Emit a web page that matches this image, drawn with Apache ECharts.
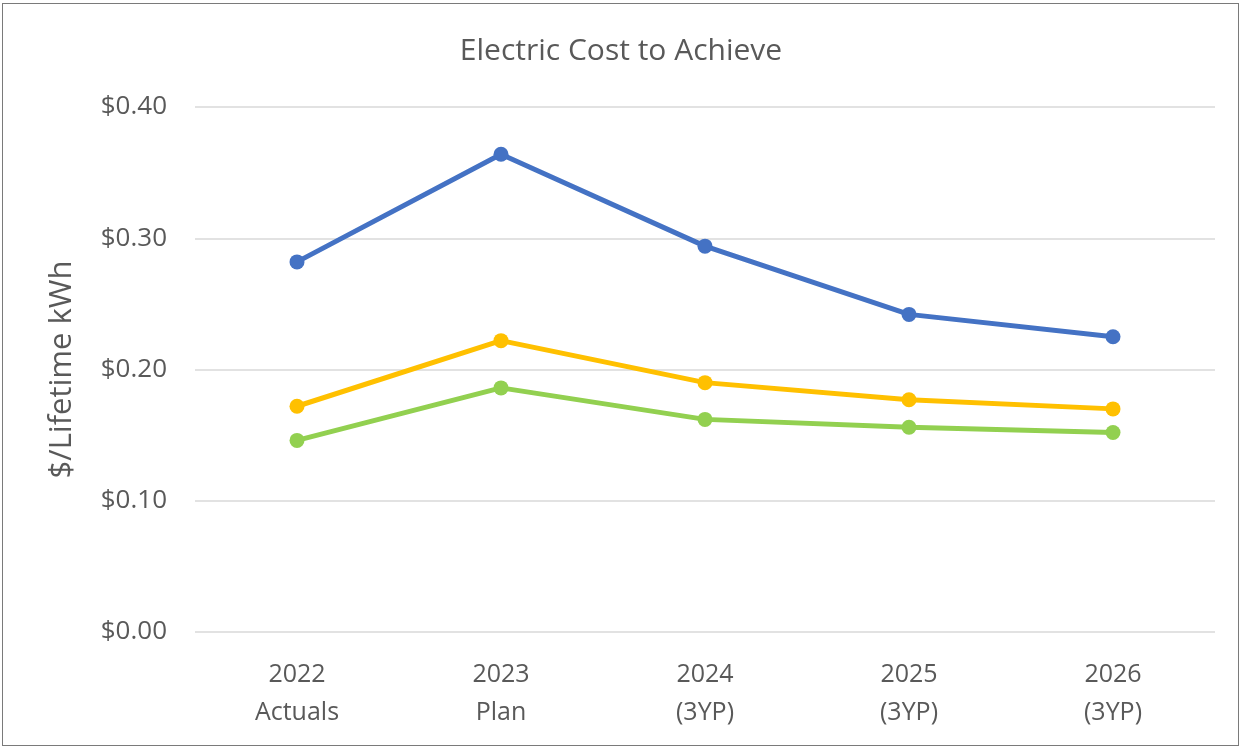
<!DOCTYPE html>
<html><head><meta charset="utf-8">
<script src="https://cdn.jsdelivr.net/npm/echarts@6/dist/echarts.min.js"></script>
<style>html,body{margin:0;padding:0;background:#fff}#c{width:1242px;height:750px}
#frame{position:absolute;left:2px;top:3px;width:1237px;height:743px;border:1.5px solid #7a7a7a;pointer-events:none;box-sizing:border-box}</style>
</head><body><div id="c"></div><div id="frame"></div>
<script>
const categories = ['2022\nActuals', '2023\nPlan', '2024\n(3YP)', '2025\n(3YP)', '2026\n(3YP)'];
const blueSeries = [0.282, 0.364, 0.294, 0.242, 0.225];
const yellowSeries = [0.172, 0.222, 0.190, 0.177, 0.170];
const greenSeries = [0.146, 0.186, 0.162, 0.156, 0.152];
const yTicks = [0, 0.1, 0.2, 0.3, 0.4];

const font = '"Open Sans", "Noto Sans", sans-serif';
const chart = echarts.init(document.getElementById('c'));
function mk(name, data, color) {
  return { name, type: 'line', data, symbol: 'circle', symbolSize: 15,
    lineStyle: { color, width: 5 }, itemStyle: { color }, z: 3 };
}
chart.setOption({
  animation: false,
  title: { text: 'Electric Cost to Achieve', left: 'center', top: 31,
    textStyle: { fontFamily: font, fontSize: 30, fontWeight: 'normal', color: '#595959' } },
  grid: { left: 195, right: 27, top: 107, bottom: 118 },
  xAxis: { type: 'category', data: categories, boundaryGap: true,
    axisLine: { show: false }, axisTick: { show: false },
    axisLabel: { fontFamily: font, fontSize: 25, color: '#595959', margin: 24, lineHeight: 38 } },
  yAxis: { type: 'value', min: yTicks[0], max: yTicks[yTicks.length - 1], interval: 0.1,
    name: '$/Lifetime kWh', nameLocation: 'middle', nameGap: 117,
    nameTextStyle: { fontFamily: font, fontSize: 31, color: '#595959' },
    axisLine: { show: false }, axisTick: { show: false },
    splitLine: { lineStyle: { color: '#d9d9d9', width: 1.5 } },
    axisLabel: { fontFamily: font, fontSize: 26, color: '#595959', margin: 28,
      formatter: v => '$' + v.toFixed(2) } },
  series: [mk('A', blueSeries, '#4472c4'), mk('B', yellowSeries, '#ffc000'), mk('C', greenSeries, '#92d050')]
});
</script></body></html>
